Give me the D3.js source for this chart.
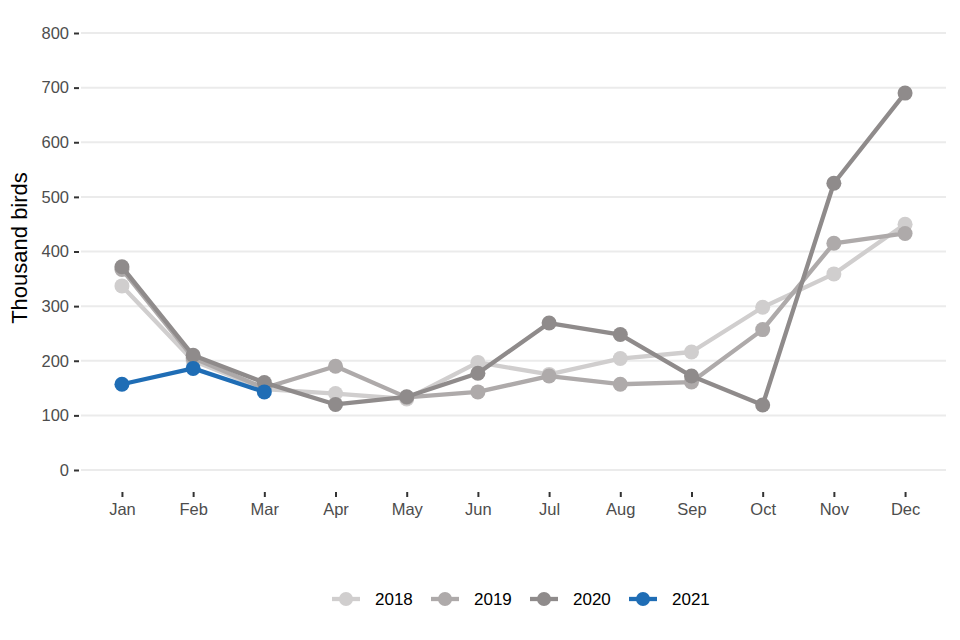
<!DOCTYPE html>
<html>
<head>
  <title>Thousand birds</title>
  <script src="https://d3js.org/d3.v7.min.js"></script>
  <style>
    body { margin: 0; background: #fff; }
    text { font-family: "Liberation Sans", Arial, sans-serif; }
  </style>
</head>
<body>

  <svg></svg>

  <script>

    // Data (thousand birds per month)
    var months = ["Jan", "Feb", "Mar", "Apr", "May", "Jun", "Jul", "Aug", "Sep", "Oct", "Nov", "Dec"];
    var years = ["2018", "2019", "2020", "2021"];
    var colours = ["#d0cece", "#aeaaaa", "#8f8b8b", "#1f6db5"];
    var yTicks = [0, 100, 200, 300, 400, 500, 600, 700, 800];

    var v2018 = [337, 200, 148, 140, 130, 197, 175, 204, 216, 298, 359, 450];
    var v2019 = [367, 205, 150, 190, 133, 143, 172, 157, 161, 257, 415, 433];
    var v2020 = [372, 210, 160, 120, 134, 177, 269, 248, 172, 119, 525, 690];
    var v2021 = [157, 186, 143];

    var series = [v2018, v2019, v2020, v2021];

    var width = 960, height = 640;

    var svg = d3.select("svg")
        .attr("width", width)
        .attr("height", height);

    // Scales
    var x = d3.scalePoint().domain(months).range([81, 946]).padding(0.575);
    var y = d3.scaleLinear().domain([0, 800]).range([470, 33]);

    // Gridlines
    svg.append("g")
      .selectAll("line")
      .data(yTicks)
      .enter().append("line")
        .attr("x1", 81).attr("x2", 946)
        .attr("y1", function(d) { return y(d); })
        .attr("y2", function(d) { return y(d); })
        .attr("stroke", "#ebebeb")
        .attr("stroke-width", 2);

    // Y axis
    var yAxis = svg.append("g")
        .attr("transform", "translate(79,0)")
        .call(d3.axisLeft(y).tickValues(yTicks).tickSize(5).tickPadding(5));
    yAxis.select(".domain").remove();
    yAxis.selectAll(".tick line").attr("stroke", "#333").attr("stroke-width", 2);
    yAxis.selectAll(".tick text")
        .attr("fill", "#4d4d4d")
        .style("font-size", "16.5px")
        .style("font-family", "'Liberation Sans', Arial, sans-serif");

    // X axis
    var xAxis = svg.append("g")
        .attr("transform", "translate(0,492)")
        .call(d3.axisBottom(x).tickSizeInner(5).tickSizeOuter(0).tickPadding(6));
    xAxis.select(".domain").remove();
    xAxis.selectAll(".tick line").attr("stroke", "#333").attr("stroke-width", 2);
    xAxis.selectAll(".tick text")
        .attr("fill", "#4d4d4d")
        .style("font-size", "16.5px")
        .style("font-family", "'Liberation Sans', Arial, sans-serif");

    // Y axis title
    svg.append("text")
        .attr("transform", "translate(27,248) rotate(-90)")
        .attr("text-anchor", "middle")
        .style("font-size", "22px")
        .attr("fill", "#000")
        .text("Thousand birds");

    // Lines and points
    var line = d3.line()
        .x(function(d, i) { return x(months[i]); })
        .y(function(d) { return y(d); });

    series.forEach(function(vals, k) {
      var g = svg.append("g");
      g.append("path")
          .datum(vals)
          .attr("fill", "none")
          .attr("stroke", colours[k])
          .attr("stroke-width", 4.3)
          .attr("stroke-linejoin", "round")
          .attr("d", line);
      g.selectAll("circle")
        .data(vals)
        .enter().append("circle")
          .attr("cx", function(d, i) { return x(months[i]); })
          .attr("cy", function(d) { return y(d); })
          .attr("r", 7.5)
          .attr("fill", colours[k]);
    });

    // Legend
    var legend = svg.append("g").attr("transform", "translate(332,599)");
    years.forEach(function(yr, k) {
      var item = legend.append("g").attr("transform", "translate(" + (k * 99) + ",0)");
      item.append("line")
          .attr("x1", 0).attr("x2", 28)
          .attr("stroke", colours[k])
          .attr("stroke-width", 4.3);
      item.append("circle")
          .attr("cx", 14).attr("r", 7)
          .attr("fill", colours[k]);
      item.append("text")
          .attr("x", 43)
          .attr("dy", "0.35em")
          .style("font-size", "17px")
          .attr("fill", "#000")
          .text(yr);
    });

  </script>

</body>
</html>
